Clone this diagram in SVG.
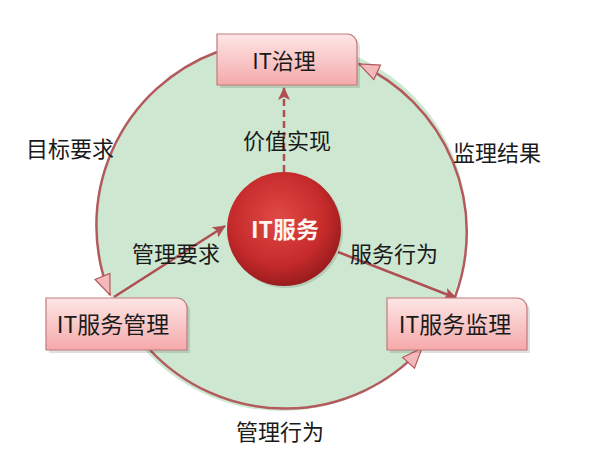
<svg xmlns="http://www.w3.org/2000/svg" width="589" height="459" viewBox="0 0 589 459">
<defs>
<style>
.t{font-family:"Noto Sans CJK SC","Liberation Sans",sans-serif;fill:#1a1a1a;text-anchor:middle}
.lbl{font-size:22px}
.bt{font-size:23px}
.arc{fill:none;stroke:#b35a5c;stroke-width:2.5}
.ln{fill:none;stroke:#b04e52;stroke-width:2.5}
.box{stroke:#c27a7c;stroke-width:1.2;fill:url(#bg)}
.sh{fill:#000;opacity:0.12}
</style>
<linearGradient id="bg" x1="0" y1="0" x2="0" y2="1">
<stop offset="0" stop-color="#fde6e6"/>
<stop offset="1" stop-color="#f5a9aa"/>
</linearGradient>
<radialGradient id="ball" cx="0.45" cy="0.4" r="0.6">
<stop offset="0" stop-color="#e04a46"/>
<stop offset="0.7" stop-color="#c42a2a"/>
<stop offset="1" stop-color="#9a1c1e"/>
</radialGradient>
<marker id="pa" markerWidth="22" markerHeight="18" refX="21" refY="9" orient="auto" markerUnits="userSpaceOnUse">
<path d="M1,1 L21,9 L1,17 Z" fill="#f5b9bb" stroke="#b35a5c" stroke-width="1.2"/>
</marker>
<marker id="da" markerWidth="14" markerHeight="12" refX="12" refY="6" orient="auto" markerUnits="userSpaceOnUse">
<path d="M0,0 L13,6 L0,12 L3,6 Z" fill="#b04e52"/>
</marker>
</defs>
<circle cx="282" cy="226" r="185" fill="#cde7d1"/>
<g id="connectors">
<path class="arc" d="M217,52 A185,185 0 0 0 110,295" marker-end="url(#pa)"/>
<path class="arc" d="M150,350 A185,185 0 0 0 422,348" marker-end="url(#pa)"/>
<path class="arc" d="M455,297 A185,185 0 0 0 359,64" marker-end="url(#pa)"/>
<path class="ln" d="M284,172 L284,88" stroke-dasharray="7,4" marker-end="url(#da)"/>
<path class="ln" d="M114,297 L225,226" marker-end="url(#da)"/>
<path class="ln" d="M338,252 L456,298" marker-end="url(#da)"/>
</g>
<g id="n-zhili">
<path class="sh" d="M220,37 H350 A10,10 0 0 1 360,47 V88 H220 Z"/>
<path class="box" d="M217,34 H347 A10,10 0 0 1 357,44 V85 H217 Z"/>
<text class="t" x="284" y="69" font-size="22">IT治理</text>
</g>
<g id="n-fuwu">
<circle cx="286" cy="231" r="57" fill="#000" opacity="0.12"/>
<circle cx="284" cy="229" r="57" fill="url(#ball)"/>
<text class="t" x="285" y="238" font-size="23" font-weight="bold" style="fill:#fff4f0">IT服务</text>
</g>
<g id="n-guanli">
<path class="sh" d="M49,301 H180 A10,10 0 0 1 190,311 V353 H49 Z"/>
<path class="box" d="M46,298 H177 A10,10 0 0 1 187,308 V350 H46 Z"/>
<text class="t bt" x="113" y="333">IT服务管理</text>
</g>
<g id="n-jianli">
<path class="sh" d="M390,301 H520 A10,10 0 0 1 530,311 V353 H390 Z"/>
<path class="box" d="M387,298 H517 A10,10 0 0 1 527,308 V350 H387 Z"/>
<text class="t bt" x="455" y="333">IT服务监理</text>
</g>
<g id="labels">
<text class="t lbl" x="287" y="149">价值实现</text>
<text class="t lbl" x="70" y="157">目标要求</text>
<text class="t lbl" x="497" y="161">监理结果</text>
<text class="t lbl" x="176" y="262">管理要求</text>
<text class="t lbl" x="394" y="262">服务行为</text>
<text class="t lbl" x="280" y="440">管理行为</text>
</g>
</svg>
